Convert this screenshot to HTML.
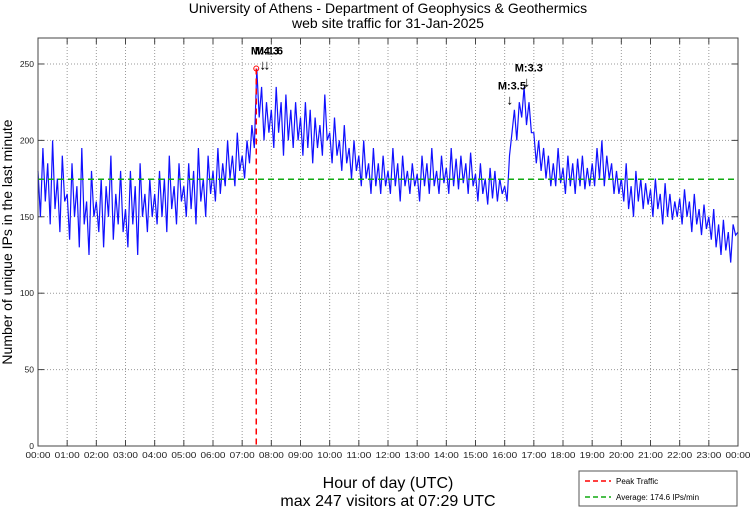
<!DOCTYPE html>
<html><head><meta charset="utf-8"><style>
body{margin:0;background:#fff;}
svg{display:block;font-family:"Liberation Sans",sans-serif;}
</style></head><body>
<svg id="chart" width="750" height="511">
<rect width="750" height="511" fill="#fff"/>
<text x="388" y="13" text-anchor="middle" font-size="14">University of Athens - Department of Geophysics &amp; Geothermics</text>
<text x="388" y="28" text-anchor="middle" font-size="14">web site traffic for 31-Jan-2025</text>
<g id="grid"></g>
<g id="ticks"></g>
<g id="series"></g>
<g id="ann"></g>
<rect x="38" y="38" width="700" height="408" fill="none" stroke="#444" stroke-width="1"/>
<text transform="translate(12,242) rotate(-90)" text-anchor="middle" font-size="14">Number of unique IPs in the last minute</text>
<text x="388" y="488" text-anchor="middle" font-size="16">Hour of day (UTC)</text>
<text x="388" y="506" text-anchor="middle" font-size="16">max 247 visitors at 07:29 UTC</text>
<g>
<rect x="579" y="471" width="158" height="35" fill="#fff" stroke="#555"/>
<line x1="585" y1="481" x2="611" y2="481" stroke="#f00" stroke-dasharray="5,3" stroke-width="1.5"/>
<text x="616" y="484" font-size="8">Peak Traffic</text>
<line x1="585" y1="497" x2="611" y2="497" stroke="#1a1" stroke-dasharray="5,3" stroke-width="1.5"/>
<text x="616" y="500" font-size="8">Average: 174.6 IPs/min</text>
</g>
</svg>
<script>
const hourLabels=["00:00","01:00","02:00","03:00","04:00","05:00","06:00","07:00","08:00","09:00","10:00","11:00","12:00","13:00","14:00","15:00","16:00","17:00","18:00","19:00","20:00","21:00","22:00","23:00","00:00"];
const yTicks=[0,50,100,150,200,250];
const visitors=[
180,150,195,160,185,145,200,155,175,140,190,160,
165,135,185,150,170,130,195,145,160,125,180,150,
160,140,175,130,170,150,190,135,165,145,180,140,
155,130,180,145,170,125,185,150,165,140,175,150,
165,145,180,150,175,140,190,155,170,145,185,160,
170,150,185,155,180,145,195,160,175,150,190,165,
180,160,195,165,185,170,200,175,190,170,205,180,
190,175,200,185,210,195,247,215,235,200,225,205,
220,195,235,205,225,190,230,200,220,195,225,200,
215,190,225,195,220,185,215,195,210,190,230,200,
205,185,215,190,200,180,210,185,195,175,200,180,
190,170,200,175,185,165,195,170,185,165,190,170,
180,165,195,170,185,160,190,170,180,165,185,170,
178,160,190,170,185,165,195,170,180,165,190,172,
182,165,195,170,188,168,190,172,185,165,192,170,
178,160,185,165,175,158,182,162,180,160,175,165,
170,160,190,205,220,200,225,215,235,210,225,205,
205,185,200,180,195,175,190,170,185,170,195,172,
182,165,190,170,185,165,188,170,190,168,182,170,
185,170,195,175,200,170,190,175,185,165,180,165,
175,160,185,155,170,150,180,160,175,155,172,158,
168,150,175,155,165,145,172,150,165,148,160,150,
162,145,168,150,160,140,165,145,155,138,158,142,
150,135,155,130,145,125,148,128,140,120,145,138,140];
const averageValue=174.6;
const peakHour=7+29/60, peakValue=247;
const quakeHours=[7.71,7.85,16.18,16.76];
const quakeLabels=["M:4.3","M:1.6","M:3.5","M:3.3"];
const quakeLevels=[249,249,226,238];
const X0=38,X1=738,Y0=446,Y1=38,YMAX=267;
const xs=h=>X0+(X1-X0)*h/24;
const ys=v=>Y0-(Y0-Y1)*v/YMAX;
const NS="http://www.w3.org/2000/svg";
function mk(parent,tag,attrs,text){const e=document.createElementNS(NS,tag);for(const k in attrs)e.setAttribute(k,attrs[k]);if(text!==undefined)e.textContent=text;parent.appendChild(e);return e;}
const grid=document.getElementById('grid'),ticks=document.getElementById('ticks'),series=document.getElementById('series'),ann=document.getElementById('ann');
hourLabels.forEach((lab,i)=>{const x=xs(i);
 if(i>0&&i<24){const g=mk(grid,'line',{x1:x,x2:x,y1:Y1,y2:Y0,stroke:'#999','stroke-dasharray':'1,2'});}
 mk(ticks,'line',{x1:x,x2:x,y1:Y0,y2:Y0-6,stroke:'#444'});mk(ticks,'line',{x1:x,x2:x,y1:Y1,y2:Y1+6,stroke:'#444'});
 const t=mk(ticks,'text',{x:x,y:458,'text-anchor':'middle','font-size':'8.5',fill:'#222',textLength:'25',lengthAdjust:'spacingAndGlyphs'},lab);
 });
yTicks.forEach(v=>{const y=ys(v);
 if(v>0){const g=mk(grid,'line',{x1:X0,x2:X1,y1:y,y2:y,stroke:'#999','stroke-dasharray':'1,2'});}
 mk(ticks,'line',{x1:X0,x2:X0+6,y1:y,y2:y,stroke:'#444'});mk(ticks,'line',{x1:X1,x2:X1-6,y1:y,y2:y,stroke:'#444'});
 const t=mk(ticks,'text',{x:34,y:y+3,'text-anchor':'end','font-size':'8.5',fill:'#222'},String(v));
 });
const n=visitors.length-1;
const pts=visitors.map((v,i)=>xs(24*i/n).toFixed(1)+','+ys(v).toFixed(1)).join(' ');
const pl=mk(series,'polyline',{points:pts,fill:'none',stroke:'#1010ff','stroke-width':'1.2'});

const avg=mk(series,'line',{x1:X0,x2:X1,y1:ys(averageValue),y2:ys(averageValue),stroke:'#1a1','stroke-width':'1.5','stroke-dasharray':'6,4'});

const pk=mk(series,'line',{x1:xs(peakHour),x2:xs(peakHour),y1:ys(peakValue),y2:Y0,stroke:'#f00','stroke-width':'1.5','stroke-dasharray':'6,4'});

const pc=mk(series,'circle',{cx:xs(peakHour),cy:ys(peakValue),r:2.5,fill:'none',stroke:'#f00'});

quakeHours.forEach((h,i)=>{const x=xs(h),y=ys(quakeLevels[i]);
 const a=mk(ann,'text',{x:x,y:y+4,'text-anchor':'middle','font-size':'14'},'↓');
 
 const t=mk(ann,'text',{x:x+2,y:y-11,'text-anchor':'middle','font-size':'11','font-weight':'bold'},quakeLabels[i]);
 });
</script>
</body></html>
